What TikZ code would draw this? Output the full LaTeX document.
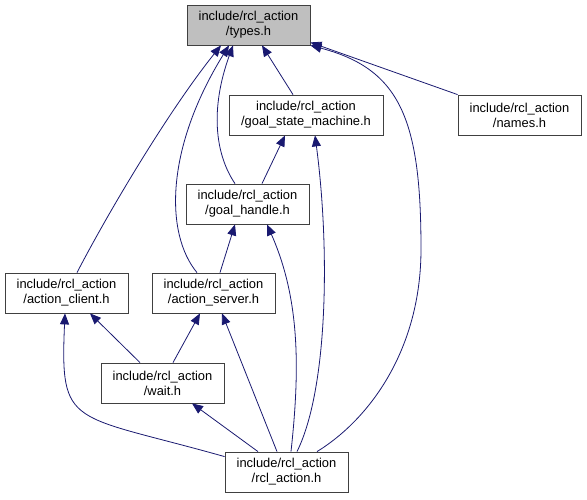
\documentclass[tikz,border=0pt]{standalone}
\usepackage{fontspec}
\setmainfont{Liberation Sans}
\usepackage{tikz}
\usetikzlibrary{arrows.meta,calc}
\definecolor{navy}{HTML}{191970}
\definecolor{grey}{HTML}{BFBFBF}
\definecolor{rim}{HTML}{404040}
\tikzset{
  every node/.style={font=\fontsize{12.9}{15}\selectfont},
  hdr/.style={rectangle,draw=rim,line width=0.8pt,fill=white,minimum height=40pt,minimum width=123pt,inner sep=0pt,align=center},
  inc/.style={draw=navy,line width=0.8pt,-{Triangle[length=11pt,width=9pt]}},
}

\begin{document}
\begin{tikzpicture}[x=1pt,y=1pt]
  \useasboundingbox (0,0) rectangle (587,499);
  % headers
  \node[hdr,fill=grey] (types) at (248.5,474) {include/rcl\_action\\/types.h};
  \node[hdr,minimum width=154pt] (gsm) at (306,384) {include/rcl\_action\\/goal\_state\_machine.h};
  \node[hdr] (names) at (519.5,384) {include/rcl\_action\\/names.h};
  \node[hdr] (goalhandle) at (247.5,295) {include/rcl\_action\\/goal\_handle.h};
  \node[hdr] (client) at (66.5,206) {include/rcl\_action\\/action\_client.h};
  \node[hdr] (server) at (213.5,206) {include/rcl\_action\\/action\_server.h};
  \node[hdr] (wait) at (162.5,116) {include/rcl\_action\\/wait.h};
  \node[hdr] (rcl) at (286.5,27) {include/rcl\_action\\/rcl\_action.h};
  % straight includes
  \foreach \a/\ax/\b/\bx in {gsm/-13/types/13.5, goalhandle/14.5/gsm/-21, server/6.5/goalhandle/-12.5,
      wait/-22.5/client/23.5, wait/10.5/server/-13.5, rcl/-9.5/server/8.5, rcl/-28.5/wait/29.5}
    \draw[inc] ($(\a.north)+(\ax,0)$) -- ($(\b.south)+(\bx,0)$);
  \draw[inc] (names.north west) -- ($(types.south east)+(0,3)$);
  % curved includes
  \draw[inc] ($(client.north)+(10.5,0)$) .. controls (110,290) and (170,390) .. ($(types.south)+(-27.5,0)$);
  \draw[inc] ($(server.north)+(-16.5,0)$) .. controls (165,265) and (165,350) .. ($(types.south)+(-19.5,0)$);
  \draw[inc] ($(goalhandle.north)+(-12.5,0)$) .. controls (215,345) and (210,390) .. ($(types.south)+(-15.5,0)$);
  \draw[inc] ($(rcl.north)+(30.5,0)$) .. controls (370,80) and (421,150) .. (421,250)
    .. controls (421,380) and (400,430) .. (types.south east);
  \draw[inc] ($(rcl.north)+(10.5,0)$) .. controls (328,110) and (330,250) .. ($(gsm.south)+(9,0)$);
  \draw[inc] ($(rcl.north)+(4.5,0)$) .. controls (300,130) and (300,200) .. ($(goalhandle.south)+(19.5,0)$);
  \draw[inc] ($(rcl.north west)+(0,-5)$) .. controls (70,86) and (60,70) .. ($(client.south)+(-1.5,0)$);
\end{tikzpicture}
\end{document}
